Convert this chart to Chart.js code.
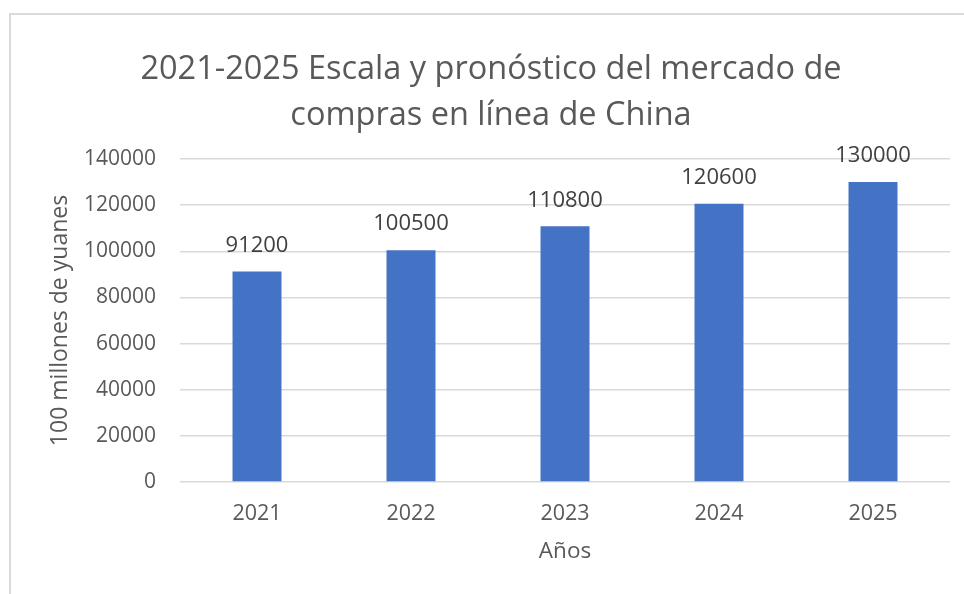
<!DOCTYPE html>
<html>
<head>
<meta charset="utf-8">
<script src="https://cdn.jsdelivr.net/npm/chart.js@4/dist/chart.umd.min.js"></script>
<style>
    body { margin: 0; background: #fff; overflow: hidden; }
    #wrap { position: relative; width: 964px; height: 594px; overflow: hidden; }
    #frame {
        position: absolute; left: 9px; top: 13px; width: 2000px; height: 2000px;
        border-left: 2px solid #d9d9d9; border-top: 2px solid #d9d9d9;
    }
    #marketChart { position: absolute; left: 0; top: 0; }
</style>
</head>
<body>
<div id="wrap">
    <div id="frame"></div>
    <canvas id="marketChart" width="964" height="594"></canvas>
</div>
<script>
const years = ['2021', '2022', '2023', '2024', '2025'];
const marketValues = [91200, 100500, 110800, 120600, 130000];
const titleLines = ['2021-2025 Escala y pronóstico del mercado de', 'compras en línea de China'];
const yAxisTitle = '100 millones de yuanes';
const xAxisTitle = 'Años';

const textColor = '#595959';
const fontFamily = '"Open Sans", "Noto Sans", sans-serif';

// draws the value above each bar
const valueLabels = {
    id: 'valueLabels',
    afterDatasetsDraw(chart) {
        const ctx = chart.ctx;
        const meta = chart.getDatasetMeta(0);
        ctx.save();
        ctx.font = '22px ' + fontFamily;
        ctx.fillStyle = '#404040';
        ctx.textAlign = 'center';
        ctx.textBaseline = 'middle';
        meta.data.forEach((bar, i) => {
            ctx.fillText(String(marketValues[i]), bar.x, bar.y - 26);
        });
        ctx.restore();
    }
};

document.addEventListener('DOMContentLoaded', function() {
    const ctx = document.getElementById('marketChart');

    new Chart(ctx, {
        type: 'bar',
        data: {
            labels: years,
            datasets: [{
                data: marketValues,
                backgroundColor: '#4472C4',
                borderWidth: 0,
                categoryPercentage: 1,
                barPercentage: 0.318
            }]
        },
        options: {
            responsive: false,
            animation: false,
            layout: {
                padding: { top: 14, left: 32, right: 14, bottom: 0 }
            },
            plugins: {
                legend: { display: false },
                tooltip: { enabled: false },
                title: {
                    display: true,
                    text: titleLines,
                    color: textColor,
                    font: { family: fontFamily, size: 32.5, weight: 'normal', lineHeight: 1.42 },
                    padding: { top: 33, bottom: 19.7 }
                }
            },
            scales: {
                x: {
                    grid: { display: false, drawTicks: false },
                    border: { display: false },
                    ticks: {
                        color: textColor,
                        font: { family: fontFamily, size: 21.5 },
                        padding: 19
                    },
                    title: {
                        display: true,
                        text: xAxisTitle,
                        color: textColor,
                        font: { family: fontFamily, size: 22.5 },
                        padding: { top: 0, bottom: 29 }
                    },
                    afterFit(scale) {
                        scale.height = 112;
                    }
                },
                y: {
                    min: 0,
                    max: 140000,
                    grid: { color: '#d9d9d9', lineWidth: 1.5, drawTicks: false },
                    border: { display: false },
                    ticks: {
                        stepSize: 20000,
                        color: textColor,
                        font: { family: fontFamily, size: 21 },
                        padding: 24,
                        callback: value => String(value)
                    },
                    title: {
                        display: true,
                        text: yAxisTitle,
                        color: textColor,
                        font: { family: fontFamily, size: 23 },
                        padding: { top: 15, bottom: 0 }
                    },
                    afterFit(scale) {
                        scale.width = 148;
                    }
                }
            }
        },
        plugins: [valueLabels]
    });
});
</script>
</body>
</html>
